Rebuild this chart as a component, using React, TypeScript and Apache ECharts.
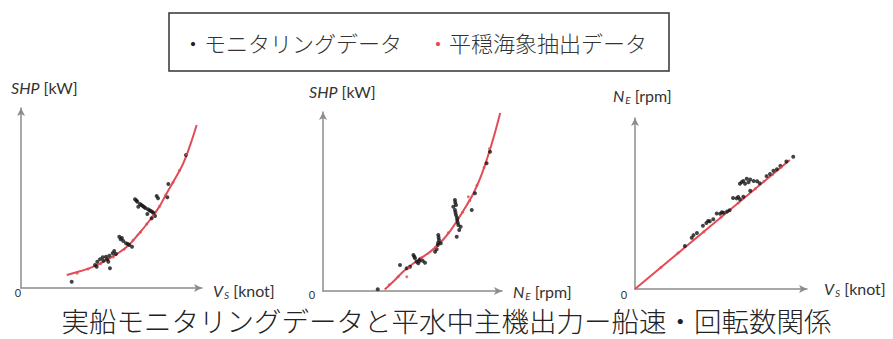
import React, { useEffect, useRef } from "react";
import * as echarts from "echarts";

// Panel 1: ship speed Vs [knot] vs shaft power SHP [kW]
const monitor1: number[][] = [
  [5.6, 350], [8.18, 1278], [8.43, 1461], [8.73, 1594], [9.03, 1706], [9.39, 1739],
  [9.76, 1794], [10.13, 1928], [9.65, 1461], [9.83, 1094], [8.36, 1183], [9.1, 1517],
  [10.5, 1889], [9.5, 1600], [10.3, 2050],
  [10.86, 2850], [11.01, 2706], [11.3, 2611], [11.6, 2483], [11.97, 2389], [12.27, 2294],
  [11.15, 2780], [11.8, 2440],
  [12.6, 4928], [12.85, 4794], [13.15, 4667], [13.45, 4556], [13.74, 4444], [14.03, 4372],
  [14.33, 4278], [14.62, 4183], [14.81, 4000], [14.44, 3872], [12.96, 4517], [13.96, 4111],
  [12.75, 4860], [13.3, 4610], [13.6, 4500], [14.2, 4320], [14.5, 4230],
  [14.99, 5111], [15.14, 4983], [16.28, 5778], [16.17, 5039], [18.23, 7389],
];
const calm1: number[][] = [
  [6.2, 820], [7.4, 1050], [8.8, 1350], [10.2, 1720], [11.4, 2150], [12.4, 2650],
  [13.2, 3100], [13.9, 3550], [14.6, 4020], [15.3, 4530], [16.0, 5170], [16.8, 5870],
  [17.5, 6520], [18.3, 7420],
];
const fit1: number[][] = [
  [5.05, 722], [6.5, 930], [8.0, 1183], [9.8, 1650], [11.7, 2294], [13.0, 3000],
  [14.25, 3778], [15.2, 4450], [16.1, 5261], [17.0, 6050], [17.93, 6928], [18.7, 7950],
  [19.41, 9056],
];

// Panel 2: engine speed NE [rpm] vs shaft power SHP [kW]
const monitor2: number[][] = [
  [30.6, 95], [43.0, 1453],
  [50.5, 2011], [51.4, 1827], [52.3, 1637], [53.2, 1547], [54.2, 1771], [55.7, 1693],
  [57.0, 1581], [48.6, 1358], [46.8, 1268], [51.0, 1920], [53.8, 1680],
  [64.4, 3128], [64.8, 2849], [64.1, 2570], [63.5, 2330], [65.8, 2665], [62.6, 2196],
  [64.6, 2990], [64.3, 2700],
  [73.7, 5084], [74.3, 4804], [73.7, 4525], [74.3, 4246], [75.0, 3966], [75.6, 3687],
  [76.1, 3408], [74.7, 3035], [76.9, 3592], [72.8, 4708], [73.9, 4950], [74.0, 4380],
  [74.8, 4100], [75.3, 3820],
  [83.1, 4525], [84.9, 5458], [91.4, 7134], [93.3, 7782],
];
const calm2: number[][] = [
  [37, 350], [42, 800], [46.8, 800], [48, 1300], [55, 1850], [63, 2450], [70, 3250],
  [78, 4400], [81.2, 5268], [82, 5050], [86, 5900], [90, 6900], [93, 7950],
];
const fit2: number[][] = [
  [34.5, 80], [40, 600], [45, 1100], [52, 1650], [60, 2200], [66, 2750], [71, 3350],
  [76, 4100], [80, 4750], [84, 5450], [88, 6350], [92, 7500], [95.5, 8650], [99, 9950],
];

// Panel 3: ship speed Vs [knot] vs engine speed NE [rpm]
const monitor3: number[][] = [
  [18.4, 77.4],
  [12.2, 61.5], [12.6, 63.2], [13.0, 64.5], [13.4, 64.0], [13.8, 63.2], [14.2, 63.0], [12.8, 61.5],
  [13.2, 62.4], [12.4, 62.5],
  [11.4, 53.2], [11.8, 53.0], [12.2, 52.5], [12.6, 54.0], [12.0, 53.8],
  [9.5, 44.2], [9.9, 44.0], [10.3, 44.6], [10.7, 45.3], [11.0, 46.0], [10.1, 44.9],
  [8.3, 38.6], [8.7, 39.6], [9.1, 40.8], [7.9, 37.0], [8.5, 39.8],
  [6.8, 31.5], [7.2, 32.8], [6.6, 30.0], [5.8, 25.2],
  [15.3, 66.0], [16.1, 69.2], [16.9, 72.0], [17.6, 74.6], [14.5, 61.8], [13.4, 57.5],
  [15.7, 67.2], [16.5, 70.0],
];
const calm3: number[][] = [
  [3, 12.6], [5, 21], [8, 33.5], [10, 42], [12, 50.3], [14, 58.6], [15, 63], [16, 67], [17, 71.2],
];
const fit3: number[][] = [[0, 0], [18.0, 75.4]];

const legendMonitor = "モニタリングデータ";
const legendCalm = "平穏海象抽出データ";
const caption = "実船モニタリングデータと平水中主機出力ー船速・回転数関係";

const FONT_JP = '"Noto Sans CJK JP", "Noto Sans", sans-serif';
const FONT_AX = 'Lato, "Open Sans", sans-serif';
const AXIS_GRAY = "#8c8c8c";
const RED = "#e34b55";
const BLACK = "#151515";

const grids = [
  { left: 21, top: 108, width: 181, height: 180, xMax: 20, yMax: 10000 },
  { left: 323, top: 112, width: 179, height: 179, xMax: 100, yMax: 10000 },
  { left: 635, top: 118, width: 172, height: 171, xMax: 20, yMax: 100 },
];

const axisLine = {
  show: true,
  onZero: false,
  symbol: ["none", "arrow"],
  symbolSize: [6, 8],
  lineStyle: { color: AXIS_GRAY, width: 1.5 },
};

function axisText(x: number, y: number, text: string) {
  return {
    type: "text",
    x,
    y,
    style: {
      text,
      fill: "#333",
      fontFamily: FONT_AX,
      fontSize: 16,
      verticalAlign: "middle",
      align: "left",
      rich: {
        i: { fontStyle: "italic", fontSize: 16, fontFamily: FONT_AX, fill: "#333" },
        s: { fontStyle: "italic", fontSize: 10, fontFamily: FONT_AX, fill: "#333", padding: [9, 0, 0, 1] },
        n: { fontSize: 16, fontFamily: FONT_AX, fill: "#333" },
      },
    },
  };
}

export default function App() {
  const ref = useRef<HTMLDivElement>(null);

  useEffect(() => {
    document.body.style.margin = "0";
    const chart = echarts.init(ref.current!, undefined, { renderer: "svg" });

    const series: any[] = [];
    const sets = [
      [fit1, monitor1, calm1],
      [fit2, monitor2, calm2],
      [fit3, monitor3, calm3],
    ];
    sets.forEach(([fit, mon, calm], i) => {
      series.push({
        type: "line",
        xAxisIndex: i,
        yAxisIndex: i,
        data: fit,
        smooth: 0.4,
        symbol: "none",
        lineStyle: { color: RED, width: 2 },
        z: 2,
      });
      series.push({
        type: "scatter",
        xAxisIndex: i,
        yAxisIndex: i,
        data: mon,
        symbolSize: 4,
        itemStyle: { color: BLACK },
        z: 3,
      });
      series.push({
        type: "scatter",
        xAxisIndex: i,
        yAxisIndex: i,
        data: calm,
        symbolSize: 3,
        itemStyle: { color: RED },
        z: 4,
      });
    });

    chart.setOption({
      animation: false,
      backgroundColor: "#ffffff",
      grid: grids.map((g) => ({ left: g.left, top: g.top, width: g.width, height: g.height })),
      xAxis: grids.map((g, i) => ({
        type: "value",
        gridIndex: i,
        min: 0,
        max: g.xMax,
        axisLine,
        axisTick: { show: false },
        axisLabel: { show: false },
        splitLine: { show: false },
      })),
      yAxis: grids.map((g, i) => ({
        type: "value",
        gridIndex: i,
        min: 0,
        max: g.yMax,
        axisLine,
        axisTick: { show: false },
        axisLabel: { show: false },
        splitLine: { show: false },
      })),
      series,
      graphic: [
        {
          type: "rect",
          shape: { x: 169, y: 13, width: 500, height: 58 },
          style: { fill: "#fff", stroke: "#333", lineWidth: 1.5 },
        },
        {
          type: "text",
          x: 182,
          y: 42,
          style: {
            text: "{d|・}{t|" + legendMonitor + "}",
            verticalAlign: "middle",
            rich: {
              d: { fill: "#222", fontSize: 22, fontFamily: FONT_JP, fontWeight: 300 },
              t: { fill: "#333", fontSize: 22, fontFamily: FONT_JP, fontWeight: 300 },
            },
          },
        },
        {
          type: "text",
          x: 427,
          y: 42,
          style: {
            text: "{d|・}{t|" + legendCalm + "}",
            verticalAlign: "middle",
            rich: {
              d: { fill: RED, fontSize: 22, fontFamily: FONT_JP, fontWeight: 300 },
              t: { fill: "#333", fontSize: 22, fontFamily: FONT_JP, fontWeight: 300 },
            },
          },
        },
        axisText(11, 87, "{i|SHP}{n| [kW]}"),
        axisText(213, 290, "{i|V}{s|S}{n| [knot]}"),
        axisText(309, 91, "{i|SHP}{n| [kW]}"),
        axisText(513, 291, "{i|N}{s|E}{n| [rpm]}"),
        axisText(613, 95, "{i|N}{s|E}{n| [rpm]}"),
        axisText(824, 288, "{i|V}{s|S}{n| [knot]}"),
        ...[
          [18, 292],
          [312, 294],
          [624, 294],
        ].map(([x, y]) => ({
          type: "text",
          x,
          y,
          style: {
            text: "0",
            fill: "#333",
            fontFamily: FONT_AX,
            fontSize: 11,
            align: "center",
            verticalAlign: "middle",
          },
        })),
        {
          type: "text",
          x: 446.5,
          y: 320,
          style: {
            text: caption,
            fill: "#222",
            fontFamily: FONT_JP,
            fontSize: 27.5,
            fontWeight: 300,
            lineHeight: 28,
            align: "center",
            verticalAlign: "middle",
          },
        },
      ],
    });

    return () => chart.dispose();
  }, []);

  return <div ref={ref} style={{ width: 893, height: 339 }} />;
}
